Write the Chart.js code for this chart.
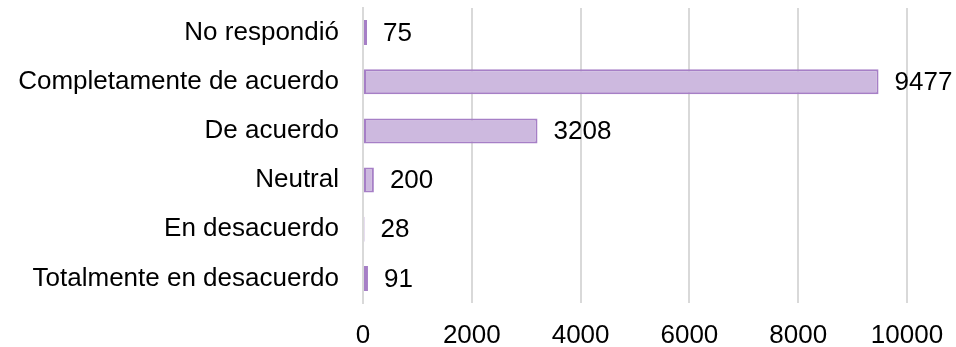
<!DOCTYPE html>
<html lang="es">
<head>
<meta charset="UTF-8" />
<title>Respuestas</title>
<script src="https://cdn.jsdelivr.net/npm/chart.js"></script>
<style>
  html, body { margin: 0; padding: 0; background: #fff; }
  .graph { width: 956px; height: 347px; position: relative; }
</style>
</head>
<body>
<div class="graph">
  <canvas id="graficoRespuestas"></canvas>
</div>
<script>
  // categorias de respuesta y cantidad de personas
  const categorias = [
    "No respondió",
    "Completamente de acuerdo",
    "De acuerdo",
    "Neutral",
    "En desacuerdo",
    "Totalmente en desacuerdo"
  ];
  const cantidades = [75, 9477, 3208, 200, 28, 91];
  const ejeMax = 10000;
  const ejePaso = 2000;

  const fuente = { family: "'Liberation Sans', Arial, sans-serif", size: 26 };

  // escribe el valor al final de cada barra
  const etiquetasValor = {
    id: "etiquetasValor",
    afterDatasetsDraw(chart) {
      const ctx = chart.ctx;
      ctx.save();
      ctx.font = fuente.size + "px " + fuente.family;
      ctx.fillStyle = "#000";
      ctx.textAlign = "left";
      ctx.textBaseline = "middle";
      chart.getDatasetMeta(0).data.forEach(function (barra, i) {
        ctx.fillText(String(cantidades[i]), barra.x + 16, barra.y + 1);
      });
      ctx.restore();
    }
  };

  new Chart(document.getElementById("graficoRespuestas"), {
    type: "bar",
    data: {
      labels: categorias,
      datasets: [{
        data: cantidades,
        backgroundColor: "#cdb9df",
        borderColor: "#a67fc6",
        borderWidth: 2,
        borderSkipped: false,
        categoryPercentage: 1,
        barPercentage: 0.51
      }]
    },
    options: {
      indexAxis: "y",
      responsive: true,
      maintainAspectRatio: false,
      animation: false,
      layout: { padding: { top: 8, right: 49, bottom: 0, left: 0 } },
      plugins: {
        legend: { display: false },
        tooltip: { enabled: false }
      },
      scales: {
        x: {
          min: 0,
          max: ejeMax,
          ticks: {
            stepSize: ejePaso,
            color: "#000",
            font: fuente,
            padding: 17,
            callback: function (v) { return String(v); }
          },
          grid: { color: "#d9d9d9", lineWidth: 2, drawTicks: false },
          border: { display: false },
          afterFit(scale) {
            scale.height = 44;
            scale.paddingLeft = 0;
            scale.paddingRight = 0;
          }
        },
        y: {
          ticks: { color: "#000", font: fuente, padding: 24 },
          grid: { display: false, drawTicks: false },
          border: { color: "#d9d9d9", width: 2 },
          afterFit(scale) {
            scale.width = 363;
            scale.paddingTop = 0;
            scale.paddingBottom = 0;
          }
        }
      }
    },
    plugins: [etiquetasValor]
  });
</script>
</body>
</html>
